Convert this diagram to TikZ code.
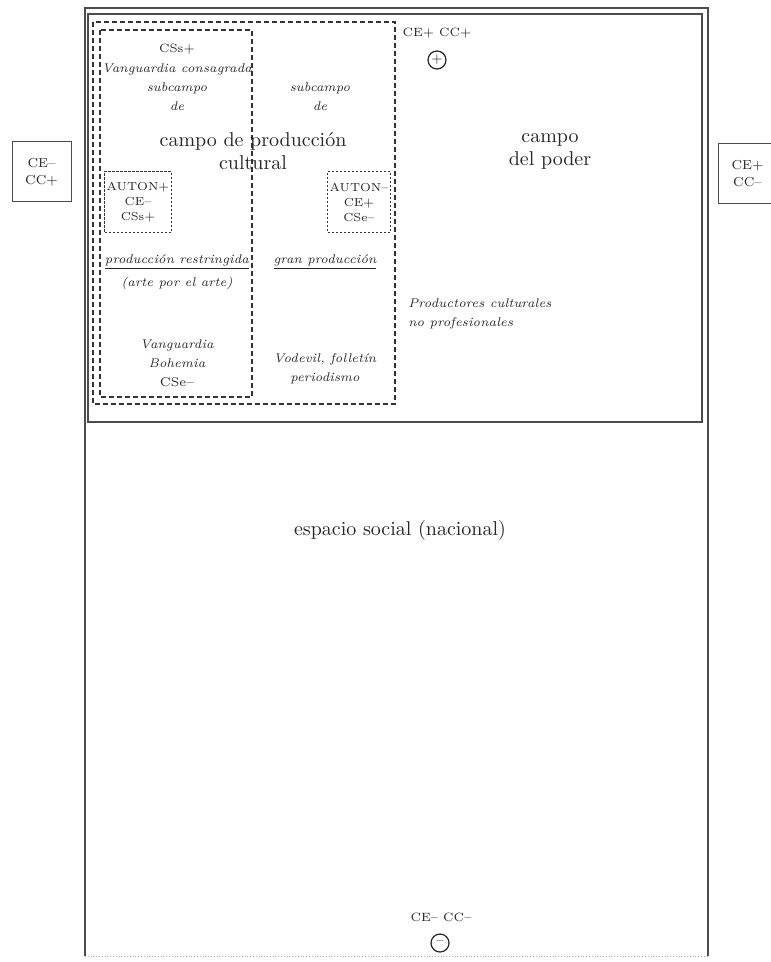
\documentclass[tikz,border=0pt]{standalone}
\usepackage{fontspec}
\usetikzlibrary{positioning}
\begin{document}
\begin{tikzpicture}[x=0.5pt,y=-0.5pt,
  every node/.style={text=black!85,align=center,inner sep=1pt},
  bigtxt/.style={font=\fontsize{10}{11.5}\selectfont},
  smalltxt/.style={font=\fontsize{6.3}{9.5}\selectfont\itshape},
  tinytxt/.style={font=\fontsize{6}{8}\selectfont},
  fieldline/.style={draw=black!70,line width=0.6pt},
  fielddash/.style={draw=black!80,line width=1pt,dash pattern=on 2.6pt off 1.4pt},
  autonbox/.style={draw=black!80,line width=0.5pt,dash pattern=on 1.2pt off 0.8pt,
    minimum width=31pt,minimum height=30.5pt,font=\fontsize{5.8}{7.5}\selectfont},
  capbox/.style={draw=black!70,line width=0.5pt,minimum width=29.5pt,minimum height=30pt,
    font=\fontsize{6.5}{8.5}\selectfont},
  signo/.style={circle,draw=black!85,line width=0.6pt,minimum size=9pt,inner sep=0pt,
    font=\fontsize{6}{6}\selectfont}]
  \useasboundingbox[fill=white] (0,0) rectangle (770,962);
  % espacio social y campo del poder
  \draw[fieldline] (85,956) -- (85,8) -- (708,8) -- (708,956);
  \draw[densely dotted,black!35] (85,956) -- (708,956);
  \draw[fieldline] (88,14) rectangle (702,422);
  % campo de produccion cultural y subcampo restringido
  \draw[fielddash] (93,22) rectangle (395,404);
  \draw[fielddash] (100,30) rectangle (252,397);
  % textos del subcampo restringido
  \node[tinytxt] (css) at (177,49) {CSs+};
  \node[smalltxt] (vcons) at (177,87) {Vanguardia consagrada\\subcampo\\de};
  \node[smalltxt] (subgp) at (320,97) {subcampo\\de};
  \node[bigtxt] (cpc) at (253,151) {campo de producción\\cultural};
  \node[autonbox] (autmas) at (138,202) {AUTON+\\CE–\\CSs+};
  \node[autonbox] (autmen) at (359,202) {AUTON–\\CE+\\CSe–};
  \node[smalltxt] (prest) at (177,262) {\underline{producción restringida}};
  \node[smalltxt] (arte) at (177,283) {(arte por el arte)};
  \node[smalltxt] (granp) at (325,262) {\underline{gran producción}};
  \node[smalltxt] (bohem) at (177,363) {Vanguardia\\Bohemia\\\upshape CSe–};
  \node[smalltxt] (vodev) at (325,369) {Vodevil, folletín\\periodismo};
  % campo del poder
  \node[tinytxt] (polomas) at (437,33) {CE+ CC+};
  \node[signo] (signomas) at (437,60) {+};
  \node[bigtxt] (cpoder) at (550,151) {campo\\del poder};
  \node[smalltxt,align=left,anchor=west] (prodnp) at (406,314) {Productores culturales\\no profesionales};
  % capitales a los lados
  \node[capbox] (izq) at (41.5,172) {CE–\\CC+};
  \node[capbox] (der) at (747.5,173.5) {CE+\\CC–};
  % espacio social
  \node[bigtxt] (esoc) at (400,530) {espacio social (nacional)};
  \node[tinytxt] (polomen) at (441,917) {CE– CC–};
  \node[signo] (signomen) at (440,943) {--};
\end{tikzpicture}
\end{document}
